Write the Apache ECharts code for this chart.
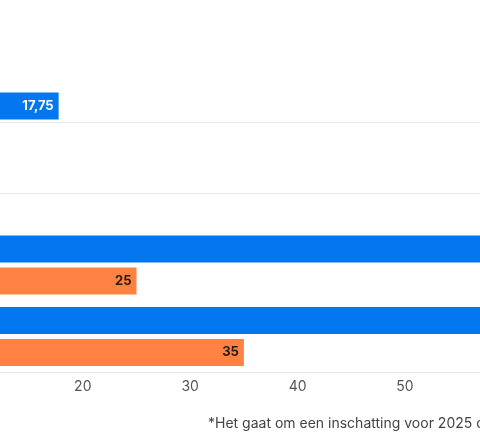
<!DOCTYPE html>
<html>
<head>
<meta charset="utf-8">
<script src="https://cdn.jsdelivr.net/npm/echarts@6/dist/echarts.min.js"></script>
<style>
html,body{margin:0;padding:0;background:#fff;}
#c{width:480px;height:447px;}
</style>
</head>
<body>
<div id="c"></div>
<script>
// Categories (their labels lie outside the visible crop)
const categories = ['Categorie 1', 'Categorie 2', 'Categorie 3', 'Categorie 4'];
// Blue series values (bars past the crop edge are estimates)
const blueValues = [17.75, 9, 60, 62];
// Orange series values
const orangeValues = [10, 8, 25, 35];
// X-axis ticks
const xMin = 0, xMax = 70, xStep = 10;
// Categories with a separator line through them
const lineCategories = ['Categorie 1', 'Categorie 2'];
const footnote = '*Het gaat om een inschatting voor 2025 o';

const FONT = 'Inter';
const fmt = p => String(p.value).replace('.', ',');

const chart = echarts.init(document.getElementById('c'));
chart.setOption({
  animation: false,
  backgroundColor: '#ffffff',
  textStyle: { fontFamily: FONT },
  grid: {
    left: -132, right: -139.8, top: 86.25, bottom: 74.75,
    containLabel: false, outerBoundsMode: 'none'
  },
  xAxis: {
    type: 'value', min: xMin, max: xMax, interval: xStep,
    axisLine: { show: true, lineStyle: { color: '#e6e6e6', width: 1 } },
    axisTick: { show: false },
    splitLine: { show: false },
    axisLabel: { color: '#555', fontSize: 14, margin: 8, fontFamily: FONT }
  },
  yAxis: {
    type: 'category', data: categories, inverse: true,
    axisLine: { show: false }, axisTick: { show: false },
    axisLabel: { show: false }, splitLine: { show: false }
  },
  series: [
    {
      type: 'line', name: 'scheiding', data: [],
      z: 1, silent: true,
      markLine: {
        silent: true, symbol: 'none', label: { show: false },
        lineStyle: { color: '#ebebeb', width: 1, type: 'solid' },
        data: lineCategories.map(c => ({ yAxis: c }))
      }
    },
    {
      type: 'bar', name: 'blauw', data: blueValues,
      barWidth: 27, barGap: '19%',
      itemStyle: { color: '#0377f0' },
      label: {
        show: true, position: 'insideRight', distance: 5,
        color: '#ffffff', fontWeight: 'bold', fontSize: 13, fontFamily: FONT,
        formatter: fmt
      },
      z: 3
    },
    {
      type: 'bar', name: 'oranje', data: orangeValues,
      barWidth: 27, barGap: '19%',
      itemStyle: { color: '#ff8243' },
      label: {
        show: true, position: 'insideRight', distance: 5,
        color: '#2a1a10', fontWeight: 'bold', fontSize: 13, fontFamily: FONT,
        formatter: fmt
      },
      z: 3
    }
  ],
  graphic: [
    {
      type: 'text', left: 208, top: 417,
      style: { text: footnote, fill: '#444', fontSize: 14, fontFamily: FONT }
    }
  ]
});
</script>
</body>
</html>
